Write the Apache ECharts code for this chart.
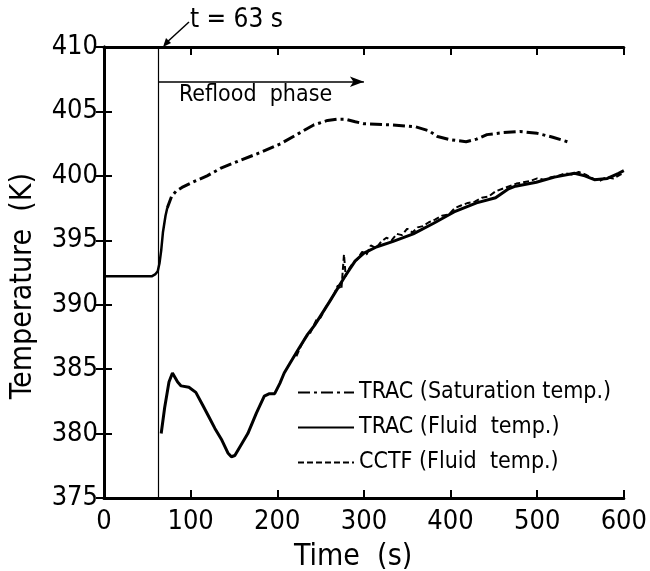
<!DOCTYPE html>
<html><head><meta charset="utf-8">
<script src="https://cdn.jsdelivr.net/npm/echarts@6/dist/echarts.min.js"></script>
<style>html,body{margin:0;padding:0;background:#fff}#c{width:650px;height:571px}</style>
</head><body><div id="c"></div>
<script>
const FONT = "'DejaVu Sans Condensed','DejaVu Sans',sans-serif";
const xTicks = [0,100,200,300,400,500,600];
const yTicks = [375,380,385,390,395,400,405,410];
const legendNames = ['TRAC (Saturation temp.)','TRAC (Fluid  temp.)','CCTF (Fluid  temp.)'];
const refloodStart = 63;
const refloodArrowEnd = 300;
const refloodArrowLevel = 407.3;

const preReflood = [[0,392.2],[30,392.2],[55,392.2],[59,392.35],[62,392.6],[64,393.2],[66,394.2],[68,395.6],[71,396.9],[73,397.5]];
const tracSat = [[73,397.5],[78,398.4],[83,398.8],[90,399.1],[102,399.5],[119,400.0],[135,400.6],[157,401.2],[180,401.8],[204,402.5],[225,403.3],[242,403.95],[258,404.3],[270,404.4],[278,404.4],[290,404.2],[300,404.05],[333,403.95],[360,403.8],[375,403.5],[385,403.05],[400,402.8],[418,402.65],[430,402.85],[442,403.2],[460,403.35],[480,403.45],[500,403.3],[518,403.0],[537,402.6]];
const tracFluid = [[66,380.0],[70,382.0],[75,384.0],[79,384.7],[85,384.0],[89,383.7],[98,383.6],[106,383.2],[114,382.2],[121,381.3],[128,380.4],[136,379.5],[143,378.5],[147,378.2],[151,378.3],[158,379.1],[166,380.0],[176,381.6],[185,382.9],[191,383.1],[197,383.1],[203,383.9],[208,384.7],[215,385.5],[224,386.5],[235,387.7],[243,388.4],[260,390.2],[280,392.4],[290,393.4],[300,394.0],[315,394.5],[333,394.9],[357,395.5],[380,396.3],[404,397.2],[430,397.9],[452,398.3],[467,399.0],[475,399.2],[499,399.5],[520,399.9],[543,400.2],[555,400.0],[566,399.7],[581,399.8],[594,400.2],[600,400.4]];
const cctfFluid = [[222,386.0],[228,386.9],[233,387.5],[238,387.8],[245,388.8],[250,389.0],[256,389.8],[262,390.4],[266,390.9],[270,391.5],[274,391.2],[277,393.9],[279,392.2],[283,392.8],[288,393.3],[292,393.5],[298,394.1],[303,393.9],[308,394.6],[314,394.4],[320,394.9],[326,395.2],[332,395.0],[338,395.5],[344,395.4],[350,395.9],[356,395.6],[362,396.0],[368,396.1],[375,396.4],[382,396.6],[390,396.9],[398,397.0],[405,397.5],[412,397.7],[420,397.9],[428,398.0],[436,398.3],[444,398.4],[452,398.8],[460,399.0],[468,399.2],[476,399.4],[484,399.5],[492,399.6],[500,399.8],[508,399.7],[516,399.9],[524,400.0],[532,400.2],[540,400.1],[548,400.3],[556,400.1],[564,399.8],[572,399.6],[580,399.9],[588,399.8],[596,400.1],[600,400.2]];

const chart = echarts.init(document.getElementById('c'), null, {renderer:'canvas'});
const axisLine = {show:true, lineStyle:{color:'#000', width:3}};
const tickIn = {show:true, inside:true, length:8, lineStyle:{color:'#000', width:2}};
const option = {
  backgroundColor:'#fff',
  animation:false,
  grid:{left:104, top:47, width:526, height:451},
  legend:{
    show:true, orient:'vertical', left:292, top:376, itemWidth:56, itemHeight:14, itemGap:12,
    data:legendNames,
    itemStyle:{opacity:0},
    textStyle:{fontFamily:FONT, fontSize:23, color:'#000'}
  },
  xAxis:[{
    type:'value', min:0, max:600, interval:100, position:'bottom',
    axisLine:axisLine, axisTick:tickIn, splitLine:{show:false},
    axisLabel:{fontFamily:FONT, fontSize:27, color:'#000', margin:10,
      formatter:v=>xTicks.includes(v)?String(v):''}
  },{
    type:'value', min:0, max:600, interval:100, position:'top',
    axisLine:axisLine, axisTick:tickIn, splitLine:{show:false}, axisLabel:{show:false}
  }],
  yAxis:[{
    type:'value', min:375, max:410, interval:5, position:'left',
    axisLine:axisLine, axisTick:tickIn, splitLine:{show:false},
    axisLabel:{fontFamily:FONT, fontSize:27, color:'#000', margin:6,
      formatter:v=>yTicks.includes(v)?String(v):''}
  },{
    type:'value', min:375, max:410, interval:5, position:'right',
    axisLine:axisLine, axisTick:tickIn, splitLine:{show:false}, axisLabel:{show:false}
  }],
  graphic:[
    {type:'text', left:8, top:173, rotation:Math.PI/2, style:{text:'Temperature  (K)', font:'30px '+FONT, fill:'#000'}},
    {type:'text', left:294, top:542, style:{text:'Time  (s)', font:'30px '+FONT, fill:'#000'}},
    {type:'text', left:190, top:7, style:{text:'t = 63 s', font:'26px '+FONT, fill:'#000'}},
    {type:'text', left:179, top:84, style:{text:'Reflood  phase', font:'23px '+FONT, fill:'#000'}},
    {type:'line', shape:{x1:189, y1:22, x2:165, y2:44}, style:{stroke:'#000', lineWidth:1.5}},
    {type:'polygon', shape:{points:[[163,47],[166,38],[171,43]]}, style:{fill:'#000'}}
  ],
  series:[
    {name:'pre', type:'line', data:preReflood, showSymbol:false, symbol:'none',
     lineStyle:{color:'#000', width:2.5}, z:3},
    {name:legendNames[0], type:'line', data:tracSat, showSymbol:false, symbol:'none',
     lineStyle:{color:'#000', width:3, type:[12,4,3,4]}, itemStyle:{color:'#000'}},
    {name:legendNames[1], type:'line', data:tracFluid, showSymbol:false, symbol:'none',
     lineStyle:{color:'#000', width:3}, itemStyle:{color:'#000'}},
    {name:legendNames[2], type:'line', data:cctfFluid, showSymbol:false, symbol:'none',
     lineStyle:{color:'#000', width:2, type:[6,3]}, itemStyle:{color:'#000'},
     markLine:{silent:true, symbol:['none','none'], label:{show:false},
       lineStyle:{color:'#000', width:1.2, type:'solid'},
       data:[[{coord:[refloodStart,375]},{coord:[refloodStart,410]}]]}},
    {name:'arrow', type:'line', data:[], markLine:{silent:true, symbol:['none','arrow'], symbolSize:[8,14], label:{show:false},
       lineStyle:{color:'#000', width:1.5, type:'solid'},
       data:[[{coord:[refloodStart,refloodArrowLevel]},{coord:[refloodArrowEnd,refloodArrowLevel]}]]}}
  ]
};
chart.setOption(option);
</script></body></html>
